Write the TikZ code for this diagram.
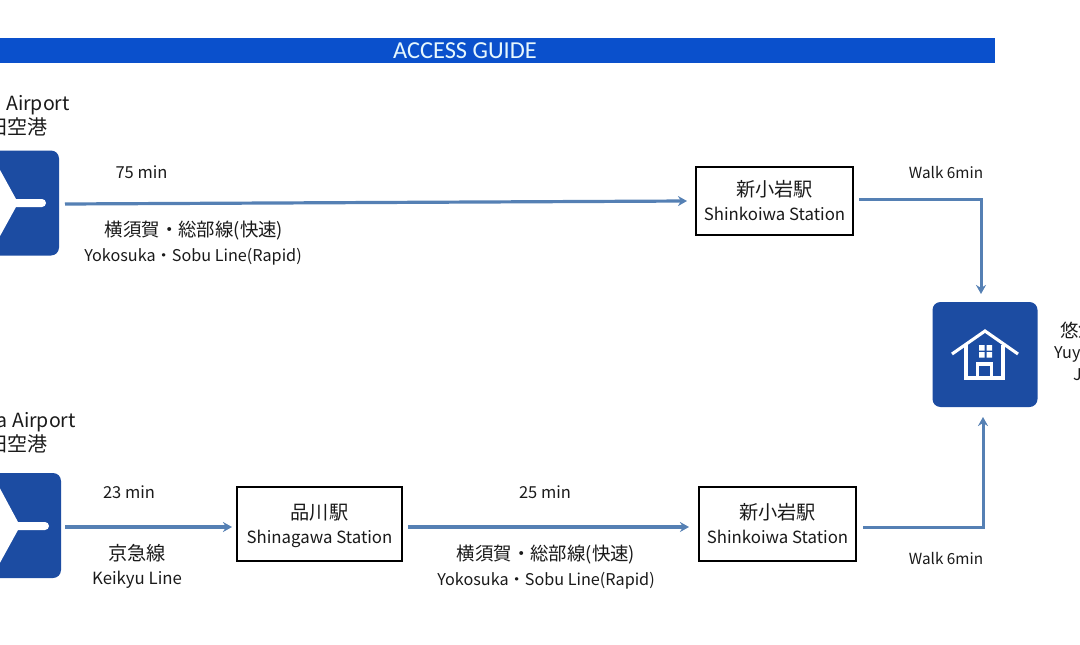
\documentclass[tikz,border=0pt]{standalone}
\usepackage{fontspec}
\setmainfont{Noto Sans CJK JP}
\newfontfamily\titlefont{Carlito}
\usetikzlibrary{arrows.meta}
\definecolor{iconblue}{HTML}{1C4CA2}
\definecolor{bandblue}{HTML}{0A50CC}
\definecolor{flowblue}{HTML}{5580B4}
\definecolor{inktext}{HTML}{1A1A1A}
\tikzset{
  x=1pt,y=-1pt,
  flow/.style={draw=flowblue,line width=3.2pt,-{Stealth[length=9pt,width=10pt]}},
  flowthin/.style={draw=flowblue,line width=3pt,line join=miter,-{Stealth[length=9pt,width=10pt]}},
  icon/.style={fill=iconblue,rounded corners=8pt,minimum width=105pt,minimum height=105pt,inner sep=0pt},
  stationbox/.style={draw=black,line width=1.3pt,fill=white,align=center,inner sep=0pt,text=inktext},
  kanji/.style={inner sep=0pt,yshift=-2pt,text=inktext,font=\fontsize{18.4}{20}\selectfont},
  kanjib/.style={inner sep=0pt,text=inktext,font=\fontsize{19.2}{20}\selectfont},
  latin/.style={inner sep=0pt,yshift=-2pt,text=inktext,font=\fontsize{16.2}{18}\selectfont},
  latinb/.style={inner sep=0pt,yshift=-2pt,text=inktext,font=\fontsize{16.8}{18}\selectfont},
  minlabel/.style={inner sep=0pt,text=inktext,font=\fontsize{16.5}{18}\selectfont},
  walklabel/.style={inner sep=0pt,yshift=-1pt,text=inktext,font=\fontsize{15.3}{18}\selectfont},
  airlabel/.style={inner sep=0pt,yshift=-3pt,text=inktext,font=\fontsize{19.5}{20}\selectfont},
  airkanji/.style={inner sep=0pt,yshift=-1pt,text=inktext,font=\fontsize{20}{20}\selectfont},
  plane/.style={fill=white,draw=none},
  housepart/.style={draw=white,line width=3.1pt,line join=miter}
}
\newcommand{\stn}[2]{{\fontsize{19.2}{25}\selectfont #1}\\[8pt]{\fontsize{16.8}{25}\selectfont #2}}
\begin{document}
\begin{tikzpicture}
\useasboundingbox (0,0) rectangle (1080,645);
\clip (0,0) rectangle (1080,645);
\fill[white] (0,0) rectangle (1080,645);
% band
\node[fill=bandblue,minimum width=1005pt,minimum height=25pt,inner sep=0pt,anchor=north west] (band) at (-10,38) {};
\node[text=white!90!cyan,inner sep=0pt,font=\titlefont\fontsize{24.4}{24}\selectfont] (title) at (465,51) {ACCESS GUIDE};
% airports
\node[icon] (air1) at (6.5,203) {};
\node[icon] (air2) at (8.5,525.5) {};
\fill[plane] (-6,159) -- (16,199) -- (42,199) arc[start angle=90,end angle=-90,radius=4pt] -- (16,207) -- (-6,247) -- cycle;
\fill[plane] (-4,481) -- (18,522) -- (45,522) arc[start angle=90,end angle=-90,radius=4pt] -- (18,530) -- (-4,570) -- cycle;
\node[airlabel,anchor=east] (nar) at (70,102) {Narita Airport};
\node[airkanji,anchor=east] (narj) at (48,126) {成田空港};
\node[airlabel,anchor=east] (han) at (76,419) {Haneda Airport};
\node[airkanji,anchor=east] (hanj) at (48,443) {羽田空港};
% stations
\node[stationbox,minimum width=157pt,minimum height=68pt] (sta1) at (774.5,201) {\stn{新小岩駅}{Shinkoiwa Station}};
\node[stationbox,minimum width=165pt,minimum height=74pt,text depth=0pt] (sta2) at (319.5,524) {\stn{品川駅}{Shinagawa Station}};
\node[stationbox,minimum width=157pt,minimum height=74pt] (sta3) at (777.5,524) {\stn{新小岩駅}{Shinkoiwa Station}};
% hotel
\node[icon] (hotel) at (985,354.5) {};
\draw[housepart] (952,354) -- (985,331) -- (1018,354);
\draw[housepart] (966,345) -- (966,378) -- (1003,378) -- (1003,345);
\draw[housepart] (977.5,378) -- (977.5,364) -- (991.5,364) -- (991.5,378);
\fill[white] (979,345) rectangle (984.5,350.5) (986.5,345) rectangle (992,350.5) (979,352) rectangle (984.5,357.5) (986.5,352) rectangle (992,357.5);
\node[kanji,anchor=west] (hj) at (1060,328) {悠悠};
\node[latin,anchor=west] (hy) at (1054,352) {Yuyu};
\node[latin,anchor=west] (hz) at (1073,373) {J};
% connectors
\coordinate (s1a) at (65,204);
\coordinate (e1a) at (687,201);
\coordinate (s1b) at (859,199);
\coordinate (c1) at (981,199);
\coordinate (e1b) at (981,294);
\coordinate (s2a) at (65,527);
\coordinate (e2a) at (232,527);
\coordinate (s2b) at (408,527);
\coordinate (e2b) at (689,527);
\coordinate (s2c) at (863,527);
\coordinate (c2) at (983,527);
\coordinate (e2c) at (983,417);
\draw[flow] (s1a) -- (e1a);
\draw[flowthin] (s1b) -- (c1) -- (e1b);
\draw[flow] (s2a) -- (e2a);
\draw[flow] (s2b) -- (e2b);
\draw[flowthin] (s2c) -- (c2) -- (e2c);
% labels
\node[minlabel] (t1) at (141.5,172) {75 min};
\node[kanji] (l1) at (194,229) {横須賀・総部線(快速)};
\node[latin] (l2) at (193,255) {Yokosuka・Sobu Line(Rapid)};
\node[walklabel] (w1) at (946,172) {Walk 6min};
\node[minlabel] (t2) at (129,492) {23 min};
\node[kanjib] (l3) at (137,553) {京急線};
\node[latinb] (l4) at (137,578) {Keikyu Line};
\node[minlabel] (t3) at (545,492) {25 min};
\node[kanji] (l5) at (546,553) {横須賀・総部線(快速)};
\node[latin] (l6) at (546,579) {Yokosuka・Sobu Line(Rapid)};
\node[walklabel] (w2) at (946,558) {Walk 6min};
\end{tikzpicture}
\end{document}
